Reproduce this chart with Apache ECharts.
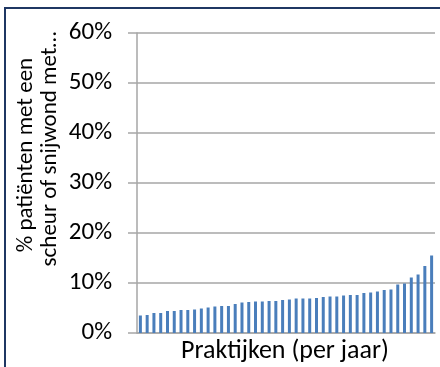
<!DOCTYPE html>
<html>
<head>
<meta charset="utf-8">
<script src="https://cdn.jsdelivr.net/npm/echarts@6/dist/echarts.min.js"></script>
<style>
  html, body { margin: 0; padding: 0; background: #fff; }
  #chart { width: 440px; height: 367px; }
</style>
</head>
<body>
<div id="chart"></div>
<script>
// Practices, sorted by share of patients (one bar per practice-year)
const practices = [
  'P01','P02','P03','P04','P05','P06','P07','P08','P09','P10','P11',
  'P12','P13','P14','P15','P16','P17','P18','P19','P20','P21','P22',
  'P23','P24','P25','P26','P27','P28','P29','P30','P31','P32','P33',
  'P34','P35','P36','P37','P38','P39','P40','P41','P42','P43','P44'
];

// % of patients with a tear or cut wound (fraction)
const shares = [
  0.035, 0.036, 0.040, 0.040, 0.044, 0.044, 0.046, 0.046, 0.047, 0.049, 0.051,
  0.053, 0.054, 0.054, 0.058, 0.061, 0.062, 0.063, 0.063, 0.064, 0.064, 0.066,
  0.067, 0.069, 0.069, 0.069, 0.070, 0.072, 0.073, 0.073, 0.075, 0.076, 0.076,
  0.080, 0.081, 0.083, 0.086, 0.087, 0.097, 0.099, 0.111, 0.117, 0.134, 0.155
];

const yTicks = [0, 0.1, 0.2, 0.3, 0.4, 0.5, 0.6];
const yTitleLines = ['% patiënten met een', 'scheur of snijwond met…'];
const xTitle = 'Praktijken (per jaar)';

const FONT = 'Carlito, "Liberation Sans", Arial, sans-serif';

const chart = echarts.init(document.getElementById('chart'), null, { renderer: 'canvas' });

chart.setOption({
  animation: false,
  backgroundColor: '#ffffff',
  grid: { left: 137, right: 5, top: 33, bottom: 34, containLabel: false },
  xAxis: {
    type: 'category',
    data: practices,
    axisLine: { show: true, lineStyle: { color: '#a6a6a6', width: 1.5 } },
    axisTick: { show: false },
    axisLabel: { show: false },
    splitLine: { show: false }
  },
  yAxis: {
    type: 'value',
    min: yTicks[0],
    max: yTicks[yTicks.length - 1],
    interval: 0.1,
    axisLine: { show: true, lineStyle: { color: '#a6a6a6', width: 1.5 } },
    axisTick: { show: true, inside: false, length: 9, lineStyle: { color: '#a6a6a6', width: 1.5 } },
    axisLabel: {
      margin: 25,
      color: '#000',
      fontSize: 25,
      fontFamily: FONT,
      formatter: v => Math.round(v * 100) + '%'
    },
    splitLine: { show: true, lineStyle: { color: '#a6a6a6', width: 1.5 } }
  },
  series: [{
    type: 'bar',
    data: shares,
    barWidth: 3,
    itemStyle: { color: '#4a7ebb' }
  }],
  graphic: [
    {
      type: 'rect',
      shape: { x: 5, y: 8, width: 480, height: 420 },
      style: { fill: 'none', stroke: '#1f3763', lineWidth: 2 },
      silent: true
    },
    {
      type: 'text',
      x: 26, y: 155,
      rotation: Math.PI / 2,
      style: {
        text: yTitleLines[0], fill: '#000', fontSize: 23, fontFamily: FONT,
        textAlign: 'center', textVerticalAlign: 'middle'
      }
    },
    {
      type: 'text',
      x: 50, y: 149,
      rotation: Math.PI / 2,
      style: {
        text: yTitleLines[1], fill: '#000', fontSize: 23, fontFamily: FONT,
        textAlign: 'center', textVerticalAlign: 'middle'
      }
    },
    {
      type: 'text',
      x: 285, y: 351,
      style: {
        text: xTitle, fill: '#000', fontSize: 26, fontFamily: FONT,
        textAlign: 'center', textVerticalAlign: 'middle'
      }
    }
  ]
});
</script>
</body>
</html>
